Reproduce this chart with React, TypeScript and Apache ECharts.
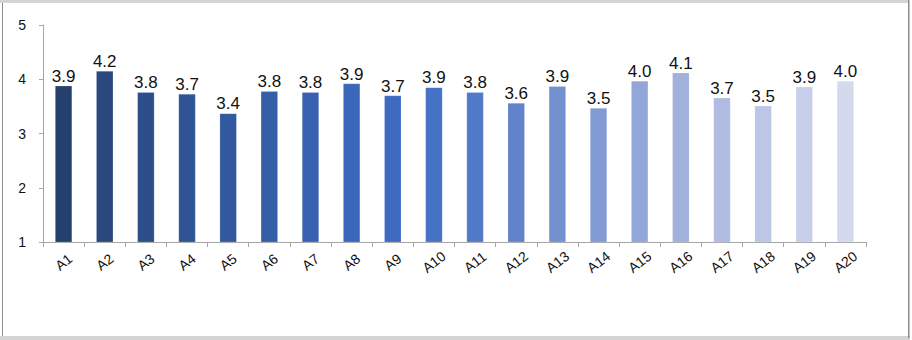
import React, { useEffect, useRef } from "react";
import * as echarts from "echarts";

const categories = ["A1","A2","A3","A4","A5","A6","A7","A8","A9","A10","A11","A12","A13","A14","A15","A16","A17","A18","A19","A20"];
const values = [3.88, 4.15, 3.76, 3.73, 3.37, 3.78, 3.76, 3.92, 3.70, 3.85, 3.76, 3.56, 3.87, 3.47, 3.97, 4.12, 3.66, 3.51, 3.86, 3.97];
const barColors = [
  "#26406E", "#29487F", "#2C4E8A", "#2F5495", "#32599F",
  "#355DA8", "#3862B1", "#3B67BA", "#3E6BC0", "#4472C4",
  "#5079C7", "#6283CB", "#7390CF", "#839BD4", "#93A6D9",
  "#A1B0DD", "#AFBBE1", "#BCC6E6", "#C7CFEA", "#D3DAEE",
];
const yTicks = [1, 2, 3, 4, 5];

export default function App() {
  const ref = useRef<HTMLDivElement>(null);
  useEffect(() => {
    if (!ref.current) return;
    const chart = echarts.init(ref.current, null, { renderer: "svg" });
    chart.setOption({
      animation: false,
      backgroundColor: "#ffffff",
      grid: { left: 43, right: 46, top: 25, bottom: 98, containLabel: false },
      xAxis: {
        type: "category",
        data: categories,
        boundaryGap: true,
        axisLine: { show: true, lineStyle: { color: "#A6A6A6", width: 1 } },
        axisTick: { show: true, alignWithLabel: false, length: 5, lineStyle: { color: "#A6A6A6" } },
        axisLabel: {
          rotate: 38,
          interval: 0,
          margin: 20,
          align: "center",
          verticalAlign: "middle",
          fontFamily: "Liberation Sans, Arial, sans-serif",
          fontSize: 14,
          color: "#111111",
        },
      },
      yAxis: {
        type: "value",
        min: yTicks[0],
        max: yTicks[yTicks.length - 1],
        interval: 1,
        splitLine: { show: false },
        axisLine: { show: true, lineStyle: { color: "#A6A6A6", width: 1 } },
        axisTick: { show: true, length: 4, inside: false, lineStyle: { color: "#A6A6A6" } },
        axisLabel: {
          margin: 17,
          fontFamily: "Liberation Sans, Arial, sans-serif",
          fontSize: 14,
          color: "#111111",
        },
      },
      series: [
        {
          type: "bar",
          data: values.map((v, i) => ({
            value: v,
            itemStyle: { color: barColors[i], borderColor: "rgba(255,255,255,0.35)", borderWidth: 0.5 },
          })),
          barWidth: 17,
          label: {
            show: true,
            position: "top",
            distance: 1,
            formatter: (p: any) => Number(p.value).toFixed(1),
            fontFamily: "Liberation Sans, Arial, sans-serif",
            fontSize: 17,
            color: "#111111",
          },
        },
      ],
      graphic: [
        { type: "rect", silent: true, shape: { x: 0, y: 0, width: 909, height: 3 }, style: { fill: "#D4D4D4" } },
        { type: "rect", silent: true, shape: { x: 0, y: 336, width: 910, height: 4 }, style: { fill: "#D4D4D4" } },
        { type: "rect", silent: true, shape: { x: 2, y: 3, width: 1, height: 333 }, style: { fill: "#8C8C8C" } },
        { type: "rect", silent: true, shape: { x: 908, y: 0, width: 1.5, height: 338 }, style: { fill: "#8C8C8C" } },
      ],
    });
    return () => chart.dispose();
  }, []);
  return (
    <div
      ref={ref}
      style={{ position: "fixed", left: 0, top: 0, width: 912, height: 340, background: "#fff" }}
    />
  );
}
